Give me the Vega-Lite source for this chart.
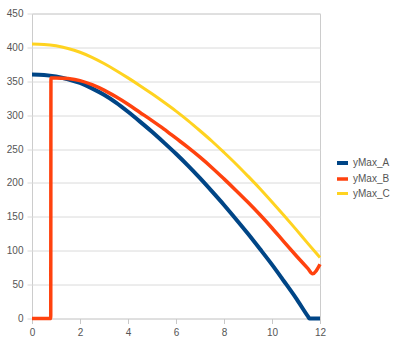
{
  "$schema": "https://vega.github.io/schema/vega-lite/v6.json",
  "width": 288,
  "height": 305,
  "autosize": "none",
  "padding": {"left": 32, "top": 13.5, "right": 80, "bottom": 37.5},
  "background": "white",
  "config": {"view": {"stroke": "#cccccc"}, "font": "Liberation Sans"},
  "data": {"values": [
    {"s": "yMax_A", "x": 0, "y": 360},
    {"s": "yMax_A", "x": 0.5, "y": 359.3},
    {"s": "yMax_A", "x": 1, "y": 357},
    {"s": "yMax_A", "x": 1.5, "y": 353},
    {"s": "yMax_A", "x": 2, "y": 347.5},
    {"s": "yMax_A", "x": 2.5, "y": 339.5},
    {"s": "yMax_A", "x": 3, "y": 330},
    {"s": "yMax_A", "x": 3.5, "y": 318.5},
    {"s": "yMax_A", "x": 4, "y": 305},
    {"s": "yMax_A", "x": 4.5, "y": 290.5},
    {"s": "yMax_A", "x": 5, "y": 275.5},
    {"s": "yMax_A", "x": 5.5, "y": 259.5},
    {"s": "yMax_A", "x": 6, "y": 243},
    {"s": "yMax_A", "x": 6.5, "y": 225.5},
    {"s": "yMax_A", "x": 7, "y": 207},
    {"s": "yMax_A", "x": 7.5, "y": 187.5},
    {"s": "yMax_A", "x": 8, "y": 167.5},
    {"s": "yMax_A", "x": 8.5, "y": 146.5},
    {"s": "yMax_A", "x": 9, "y": 125},
    {"s": "yMax_A", "x": 9.5, "y": 102.5},
    {"s": "yMax_A", "x": 10, "y": 79.5},
    {"s": "yMax_A", "x": 10.5, "y": 55},
    {"s": "yMax_A", "x": 11, "y": 30},
    {"s": "yMax_A", "x": 11.5, "y": 3},
    {"s": "yMax_A", "x": 11.56, "y": 0},
    {"s": "yMax_A", "x": 12, "y": 0},
    {"s": "yMax_B", "x": 0, "y": 0},
    {"s": "yMax_B", "x": 0.5, "y": 0},
    {"s": "yMax_B", "x": 0.78, "y": 0},
    {"s": "yMax_B", "x": 0.79, "y": 355},
    {"s": "yMax_B", "x": 1, "y": 355},
    {"s": "yMax_B", "x": 1.5, "y": 354},
    {"s": "yMax_B", "x": 2, "y": 351},
    {"s": "yMax_B", "x": 2.5, "y": 345},
    {"s": "yMax_B", "x": 3, "y": 337},
    {"s": "yMax_B", "x": 3.5, "y": 327},
    {"s": "yMax_B", "x": 4, "y": 316},
    {"s": "yMax_B", "x": 4.5, "y": 304},
    {"s": "yMax_B", "x": 5, "y": 292},
    {"s": "yMax_B", "x": 5.5, "y": 279.5},
    {"s": "yMax_B", "x": 6, "y": 266},
    {"s": "yMax_B", "x": 6.5, "y": 252.5},
    {"s": "yMax_B", "x": 7, "y": 238},
    {"s": "yMax_B", "x": 7.5, "y": 222.5},
    {"s": "yMax_B", "x": 8, "y": 206},
    {"s": "yMax_B", "x": 8.5, "y": 189},
    {"s": "yMax_B", "x": 9, "y": 171.5},
    {"s": "yMax_B", "x": 9.5, "y": 153},
    {"s": "yMax_B", "x": 10, "y": 133.5},
    {"s": "yMax_B", "x": 10.5, "y": 113},
    {"s": "yMax_B", "x": 11, "y": 93},
    {"s": "yMax_B", "x": 11.5, "y": 73.5},
    {"s": "yMax_B", "x": 11.69, "y": 66},
    {"s": "yMax_B", "x": 12, "y": 80},
    {"s": "yMax_C", "x": 0, "y": 405},
    {"s": "yMax_C", "x": 0.5, "y": 404.4},
    {"s": "yMax_C", "x": 1, "y": 402.3},
    {"s": "yMax_C", "x": 1.5, "y": 398.4},
    {"s": "yMax_C", "x": 2, "y": 392.8},
    {"s": "yMax_C", "x": 2.5, "y": 385.3},
    {"s": "yMax_C", "x": 3, "y": 376.2},
    {"s": "yMax_C", "x": 3.5, "y": 366},
    {"s": "yMax_C", "x": 4, "y": 355},
    {"s": "yMax_C", "x": 4.5, "y": 343.5},
    {"s": "yMax_C", "x": 5, "y": 331.5},
    {"s": "yMax_C", "x": 5.5, "y": 319},
    {"s": "yMax_C", "x": 6, "y": 306},
    {"s": "yMax_C", "x": 6.5, "y": 292},
    {"s": "yMax_C", "x": 7, "y": 277},
    {"s": "yMax_C", "x": 7.5, "y": 261.5},
    {"s": "yMax_C", "x": 8, "y": 245},
    {"s": "yMax_C", "x": 8.5, "y": 228},
    {"s": "yMax_C", "x": 9, "y": 210},
    {"s": "yMax_C", "x": 9.5, "y": 191.5},
    {"s": "yMax_C", "x": 10, "y": 172},
    {"s": "yMax_C", "x": 10.5, "y": 152},
    {"s": "yMax_C", "x": 11, "y": 131.5},
    {"s": "yMax_C", "x": 11.5, "y": 110.5},
    {"s": "yMax_C", "x": 12, "y": 90}
  ]},
  "mark": {"type": "line", "interpolate": "monotone", "strokeCap": "butt", "strokeJoin": "miter"},
  "encoding": {
    "x": {
      "field": "x", "type": "quantitative",
      "scale": {"domain": [0, 12], "nice": false, "zero": false},
      "axis": {"values": [0, 2, 4, 6, 8, 10, 12], "grid": false, "domain": false, "tickColor": "#c8c8c8", "tickSize": 5, "labelFontSize": 10, "labelColor": "#555555", "labelPadding": 4, "labelFlush": false, "labelOverlap": false, "title": null}
    },
    "y": {
      "field": "y", "type": "quantitative",
      "scale": {"domain": [0, 450], "nice": false},
      "axis": {"values": [0, 50, 100, 150, 200, 250, 300, 350, 400, 450], "gridColor": "#dadada", "domain": false, "tickColor": "#dadada", "tickSize": 5, "labelFontSize": 10, "labelColor": "#555555", "labelPadding": 4, "labelOverlap": false, "title": null}
    },
    "color": {
      "field": "s", "type": "nominal",
      "scale": {"domain": ["yMax_A", "yMax_B", "yMax_C"], "range": ["#004586", "#ff420e", "#ffd320"]},
      "legend": {"title": null, "orient": "none", "legendX": 303, "legendY": 142, "padding": 0, "symbolType": "stroke", "symbolStrokeWidth": 3, "symbolSize": 121, "labelFontSize": 10, "labelColor": "#555555", "rowPadding": 0, "labelOffset": 3}
    },
    "strokeWidth": {
      "field": "s", "type": "nominal",
      "scale": {"domain": ["yMax_A", "yMax_B", "yMax_C"], "range": [4, 3, 3]},
      "legend": null
    }
  }
}
